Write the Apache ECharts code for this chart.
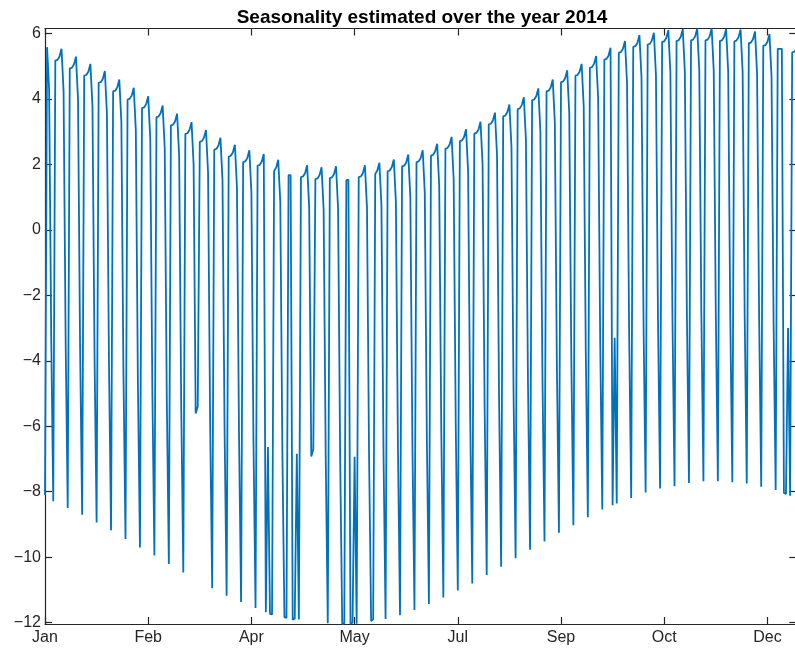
<!DOCTYPE html>
<html>
<head>
<meta charset="utf-8">
<script src="https://cdn.jsdelivr.net/npm/echarts@6/dist/echarts.min.js"></script>
<style>
html,body{margin:0;padding:0;background:#fff;}
#chart{width:795px;height:652px;}
</style>
</head>
<body>
<div id="chart"></div>
<script>
// Daily seasonality values, 1 Jan 2014 (index 0) .. 31 Dec 2014 (index 364), rows are Mon..Sun weeks
const seasonality = [
  -8.10, 5.58, 4.28, -3.19, -8.29,
  5.17, 5.19, 5.29, 5.53, 4.23, -3.40, -8.50,
  4.93, 4.95, 5.05, 5.29, 3.99, -3.60, -8.70,
  4.71, 4.73, 4.83, 5.07, 3.77, -3.84, -8.94,
  4.49, 4.51, 4.61, 4.85, 3.55, -4.08, -9.18,
  4.23, 4.25, 4.35, 4.59, 3.29, -4.34, -9.44,
  3.98, 4.00, 4.10, 4.34, 3.04, -4.60, -9.70,
  3.72, 3.74, 3.84, 4.08, 2.78, -4.85, -9.95,
  3.44, 3.46, 3.56, 3.80, 2.50, -5.11, -10.21,
  3.19, 3.21, 3.31, 3.55, 2.25, -5.37, -10.47,
  2.93, 2.95, 3.05, 3.29, 1.99, -5.61, -5.40,
  2.69, 2.71, 2.81, 3.05, 1.75, -5.85, -10.95,
  2.45, 2.47, 2.57, 2.81, 1.51, -6.08, -11.18,
  2.24, 2.26, 2.36, 2.60, 1.30, -6.27, -11.37,
  2.07, 2.09, 2.19, 2.43, 1.13, -6.45, -11.55,
  1.96, 1.98, 2.08, 2.32, -11.68, -6.63, -11.73,
  -11.75, 1.80, 1.90, 2.14, 0.84, -6.73, -11.83,
  -11.85, 1.67, 1.67, -11.91, -11.88, -6.84, -11.90,
  1.61, 1.63, 1.73, 1.97, 0.67, -6.92, -6.70,
  1.55, 1.57, 1.67, 1.91, 0.61, -6.92, -12.02,
  1.58, 1.60, 1.70, 1.94, 0.64, -6.94, -12.04,
  -12.02, 1.52, 1.53, -12.03, -12.00, -6.93, -12.03,
  1.61, 1.63, 1.73, 1.97, 0.67, -6.85, -11.95,
  -11.90, 1.71, 1.81, 2.05, 0.75, -6.79, -11.89,
  1.79, 1.81, 1.91, 2.15, 0.85, -6.67, -11.77,
  1.94, 1.96, 2.06, 2.30, 1.00, -6.51, -11.61,
  2.07, 2.09, 2.19, 2.43, 1.13, -6.33, -11.43,
  2.27, 2.29, 2.39, 2.63, 1.33, -6.13, -11.23,
  2.48, 2.50, 2.60, 2.84, 1.54, -5.92, -11.02,
  2.71, 2.73, 2.83, 3.07, 1.77, -5.70, -10.80,
  2.94, 2.96, 3.06, 3.30, 2.00, -5.44, -10.54,
  3.22, 3.24, 3.34, 3.58, 2.28, -5.19, -10.29,
  3.47, 3.49, 3.59, 3.83, 2.53, -4.93, -10.03,
  3.69, 3.71, 3.81, 4.05, 2.75, -4.67, -9.77,
  3.96, 3.98, 4.08, 4.32, 3.02, -4.42, -9.52,
  4.23, 4.25, 4.35, 4.59, 3.29, -4.15, -9.25,
  4.51, 4.53, 4.63, 4.87, 3.57, -3.92, -9.02,
  4.71, 4.73, 4.83, 5.07, 3.77, -3.68, -8.78,
  4.95, 4.97, 5.07, 5.31, 4.01, -3.44, -8.54,
  5.20, 5.22, 5.32, 5.56, -8.41, -3.30, -8.36,
  5.41, 5.43, 5.53, 5.77, 4.47, -3.09, -8.19,
  5.59, 5.61, 5.71, 5.95, 4.65, -2.92, -8.02,
  5.66, 5.68, 5.78, 6.02, 4.72, -2.80, -7.90,
  5.74, 5.76, 5.86, 6.10, 4.80, -2.73, -7.83,
  5.77, 5.79, 5.89, 6.13, 4.83, -2.63, -7.73,
  5.79, 5.81, 5.91, 6.15, 4.85, -2.58, -7.68,
  5.79, 5.81, 5.91, 6.15, 4.85, -2.58, -7.68,
  5.77, 5.79, 5.89, 6.13, 4.83, -2.61, -7.71,
  5.76, 5.78, 5.88, 6.12, 4.82, -2.65, -7.75,
  5.70, 5.72, 5.82, 6.06, 4.76, -2.75, -7.85,
  5.62, 5.64, 5.74, 5.98, 4.68, -2.85, -7.95,
  5.53, 5.53, 5.53, -8.04, -8.07, -3.00, -8.12,
  5.42, 5.44, 5.50
];
// x tick positions (day of year, counted from 1 Jan) and their labels
const xTickDays = [0, 50, 100, 150, 200, 250, 300, 350];
const xTickLabels = ['Jan', 'Feb', 'Apr', 'May', 'Jul', 'Sep', 'Oct', 'Dec'];
const yTickValues = [-12, -10, -8, -6, -4, -2, 0, 2, 4, 6];
const titleText = 'Seasonality estimated over the year 2014';

const FONT = "Helvetica, 'Liberation Sans', Arial, sans-serif";
const AX = '#262626';
const dayCount = seasonality.length;
const points = seasonality.map((v, i) => [i, v]);
const yMin = -12.04, yMax = 6.15;

const chart = echarts.init(document.getElementById('chart'), null, {renderer: 'canvas'});
const axisLine = {show: true, onZero: false, lineStyle: {color: AX, width: 1.2}};
chart.setOption({
  animation: false,
  backgroundColor: '#ffffff',
  title: {
    text: titleText,
    left: 417, top: 3, textAlign: 'center',
    textStyle: {fontFamily: FONT, fontSize: 19, fontWeight: 'bold', color: '#000'}
  },
  grid: {left: 45, width: 751.3, top: 28.5, bottom: 28, containLabel: false, outerBoundsMode: 'none'},
  xAxis: [{
    type: 'value', min: 0, max: dayCount - 1, interval: 50, position: 'bottom',
    axisLine: axisLine,
    axisTick: {show: true, inside: true, length: 7, lineStyle: {color: AX, width: 1.2}},
    axisLabel: {
      show: true, margin: 6, color: AX, fontFamily: FONT, fontSize: 16,
      formatter: v => { const k = xTickDays.indexOf(v); return k >= 0 ? xTickLabels[k] : ''; }
    },
    splitLine: {show: false}
  }, {
    type: 'value', min: 0, max: dayCount - 1, interval: 50, position: 'top',
    axisLine: axisLine,
    axisTick: {show: true, inside: true, length: 7, lineStyle: {color: AX, width: 1.2}},
    axisLabel: {show: false}, splitLine: {show: false}
  }],
  yAxis: [{
    type: 'value', min: yMin, max: yMax, position: 'left',
    axisLine: axisLine,
    axisTick: {show: true, inside: true, length: 7, customValues: yTickValues, lineStyle: {color: AX, width: 1.2}},
    axisLabel: {
      show: true, margin: 4, color: AX, fontFamily: FONT, fontSize: 16, customValues: yTickValues,
      formatter: v => (v < 0 ? '\u2212' + Math.abs(v) : String(v))
    },
    splitLine: {show: false}
  }, {
    type: 'value', min: yMin, max: yMax, position: 'right',
    axisLine: axisLine,
    axisTick: {show: true, inside: true, length: 7, customValues: yTickValues, lineStyle: {color: AX, width: 1.2}},
    axisLabel: {show: false}, splitLine: {show: false}
  }],
  series: [{
    type: 'line', xAxisIndex: 0, yAxisIndex: 0, data: points,
    showSymbol: false, symbol: 'none', clip: false,
    lineStyle: {color: '#0072BD', width: 1.8},
    emphasis: {disabled: true}
  }]
});
</script>
</body>
</html>
